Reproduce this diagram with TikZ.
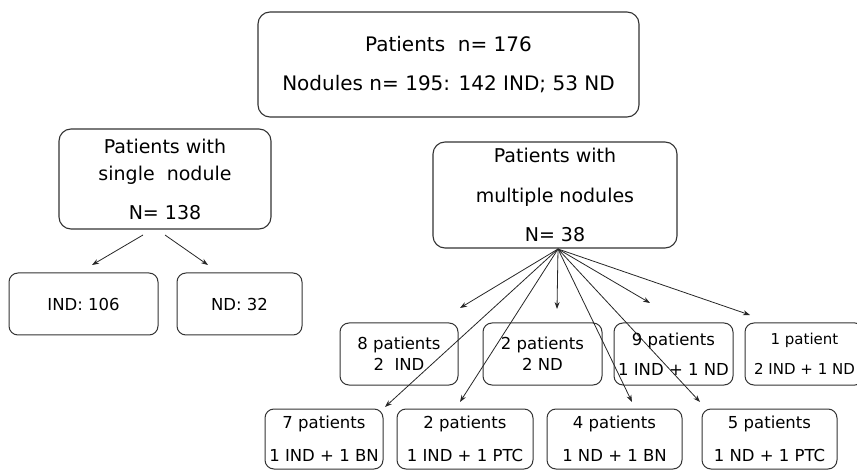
\documentclass[tikz,border=0pt]{standalone}
\usepackage{fontspec}
\setmainfont{DejaVu Sans}
\usetikzlibrary{arrows.meta}
\begin{document}
\begin{tikzpicture}[x=1pt,y=-1pt,
  bigbox/.style={draw=black!80, line width=1.1pt, rounded corners=12pt, align=center, inner sep=0pt, font=\fontsize{19}{19}\selectfont},
  smallbox/.style={draw=black!80, line width=1pt, rounded corners=9pt, align=center, inner sep=0pt, font=\fontsize{16.5}{16.5}\selectfont},
  arr/.style={draw=black!85, line width=0.8pt, -{Stealth[length=7pt,width=5pt]}}]
\useasboundingbox (0,0) rectangle (857,470);
% top
\node[bigbox, font=\fontsize{20}{20}\selectfont, minimum width=381pt, minimum height=105pt] (top) at (448.5,64.5)
  {Patients\ \ n= 176\\[19pt]Nodules n= 195: 142 IND; 53 ND};
\node[bigbox, minimum width=212pt, minimum height=100pt] (single) at (165,179)
  {Patients with\\[8pt]single\ \ nodule\\[20pt]N= 138};
\node[bigbox, minimum width=244pt, minimum height=106pt] (multi) at (555,195)
  {Patients with\\[21pt]multiple nodules\\[20pt]N= 38};
\node[smallbox, minimum width=149pt, minimum height=62pt] (ind) at (83.5,304) {IND: 106};
\node[smallbox, minimum width=125pt, minimum height=62pt] (nd) at (239.5,304) {ND: 32};
% row 1
\node[smallbox, minimum width=118pt, minimum height=62pt] (r1a) at (399,354) {8 patients\\[4.5pt]2\ \ IND};
\node[smallbox, minimum width=119pt, minimum height=62pt] (r1b) at (542.5,354) {2 patients\\[4.5pt]2 ND};
\node[smallbox, minimum width=119pt, minimum height=62pt] (r1c) at (673.5,354) {9 patients\\[13.5pt]1 IND + 1 ND};
\node[smallbox, font=\fontsize{15}{15}\selectfont, minimum width=119pt, minimum height=62pt] (r1d) at (804.5,354) {1 patient\\[15pt]2 IND + 1 ND};
% row 2
\node[smallbox, minimum width=118pt, minimum height=60pt] (r2a) at (324,439) {7 patients\\[16.5pt]1 IND + 1 BN};
\node[smallbox, minimum width=136pt, minimum height=60pt] (r2b) at (465,439) {2 patients\\[16.5pt]1 IND + 1 PTC};
\node[smallbox, minimum width=135pt, minimum height=60pt] (r2c) at (614.5,439) {4 patients\\[16.5pt]1 ND + 1 BN};
\node[smallbox, minimum width=135pt, minimum height=60pt] (r2d) at (769.5,439) {5 patients\\[16.5pt]1 ND + 1 PTC};
% connectors
\coordinate (s1) at (143,235); \coordinate (t1) at (92,265);
\coordinate (s2) at (165,235); \coordinate (t2) at (208,265);
\draw[arr] (s1) -- (t1);
\draw[arr] (s2) -- (t2);
\coordinate (o) at (558,249);
\coordinate (a1) at (460,308);
\coordinate (a2) at (557,309);
\coordinate (a3) at (650,303);
\coordinate (a4) at (750,315);
\coordinate (b1) at (385,407);
\coordinate (b2) at (460,402);
\coordinate (b3) at (632,402);
\coordinate (b4) at (700,402);
\foreach \t in {a1,a2,a3,a4,b1,b2,b3,b4} \draw[arr] (o) -- (\t);
\end{tikzpicture}
\end{document}
